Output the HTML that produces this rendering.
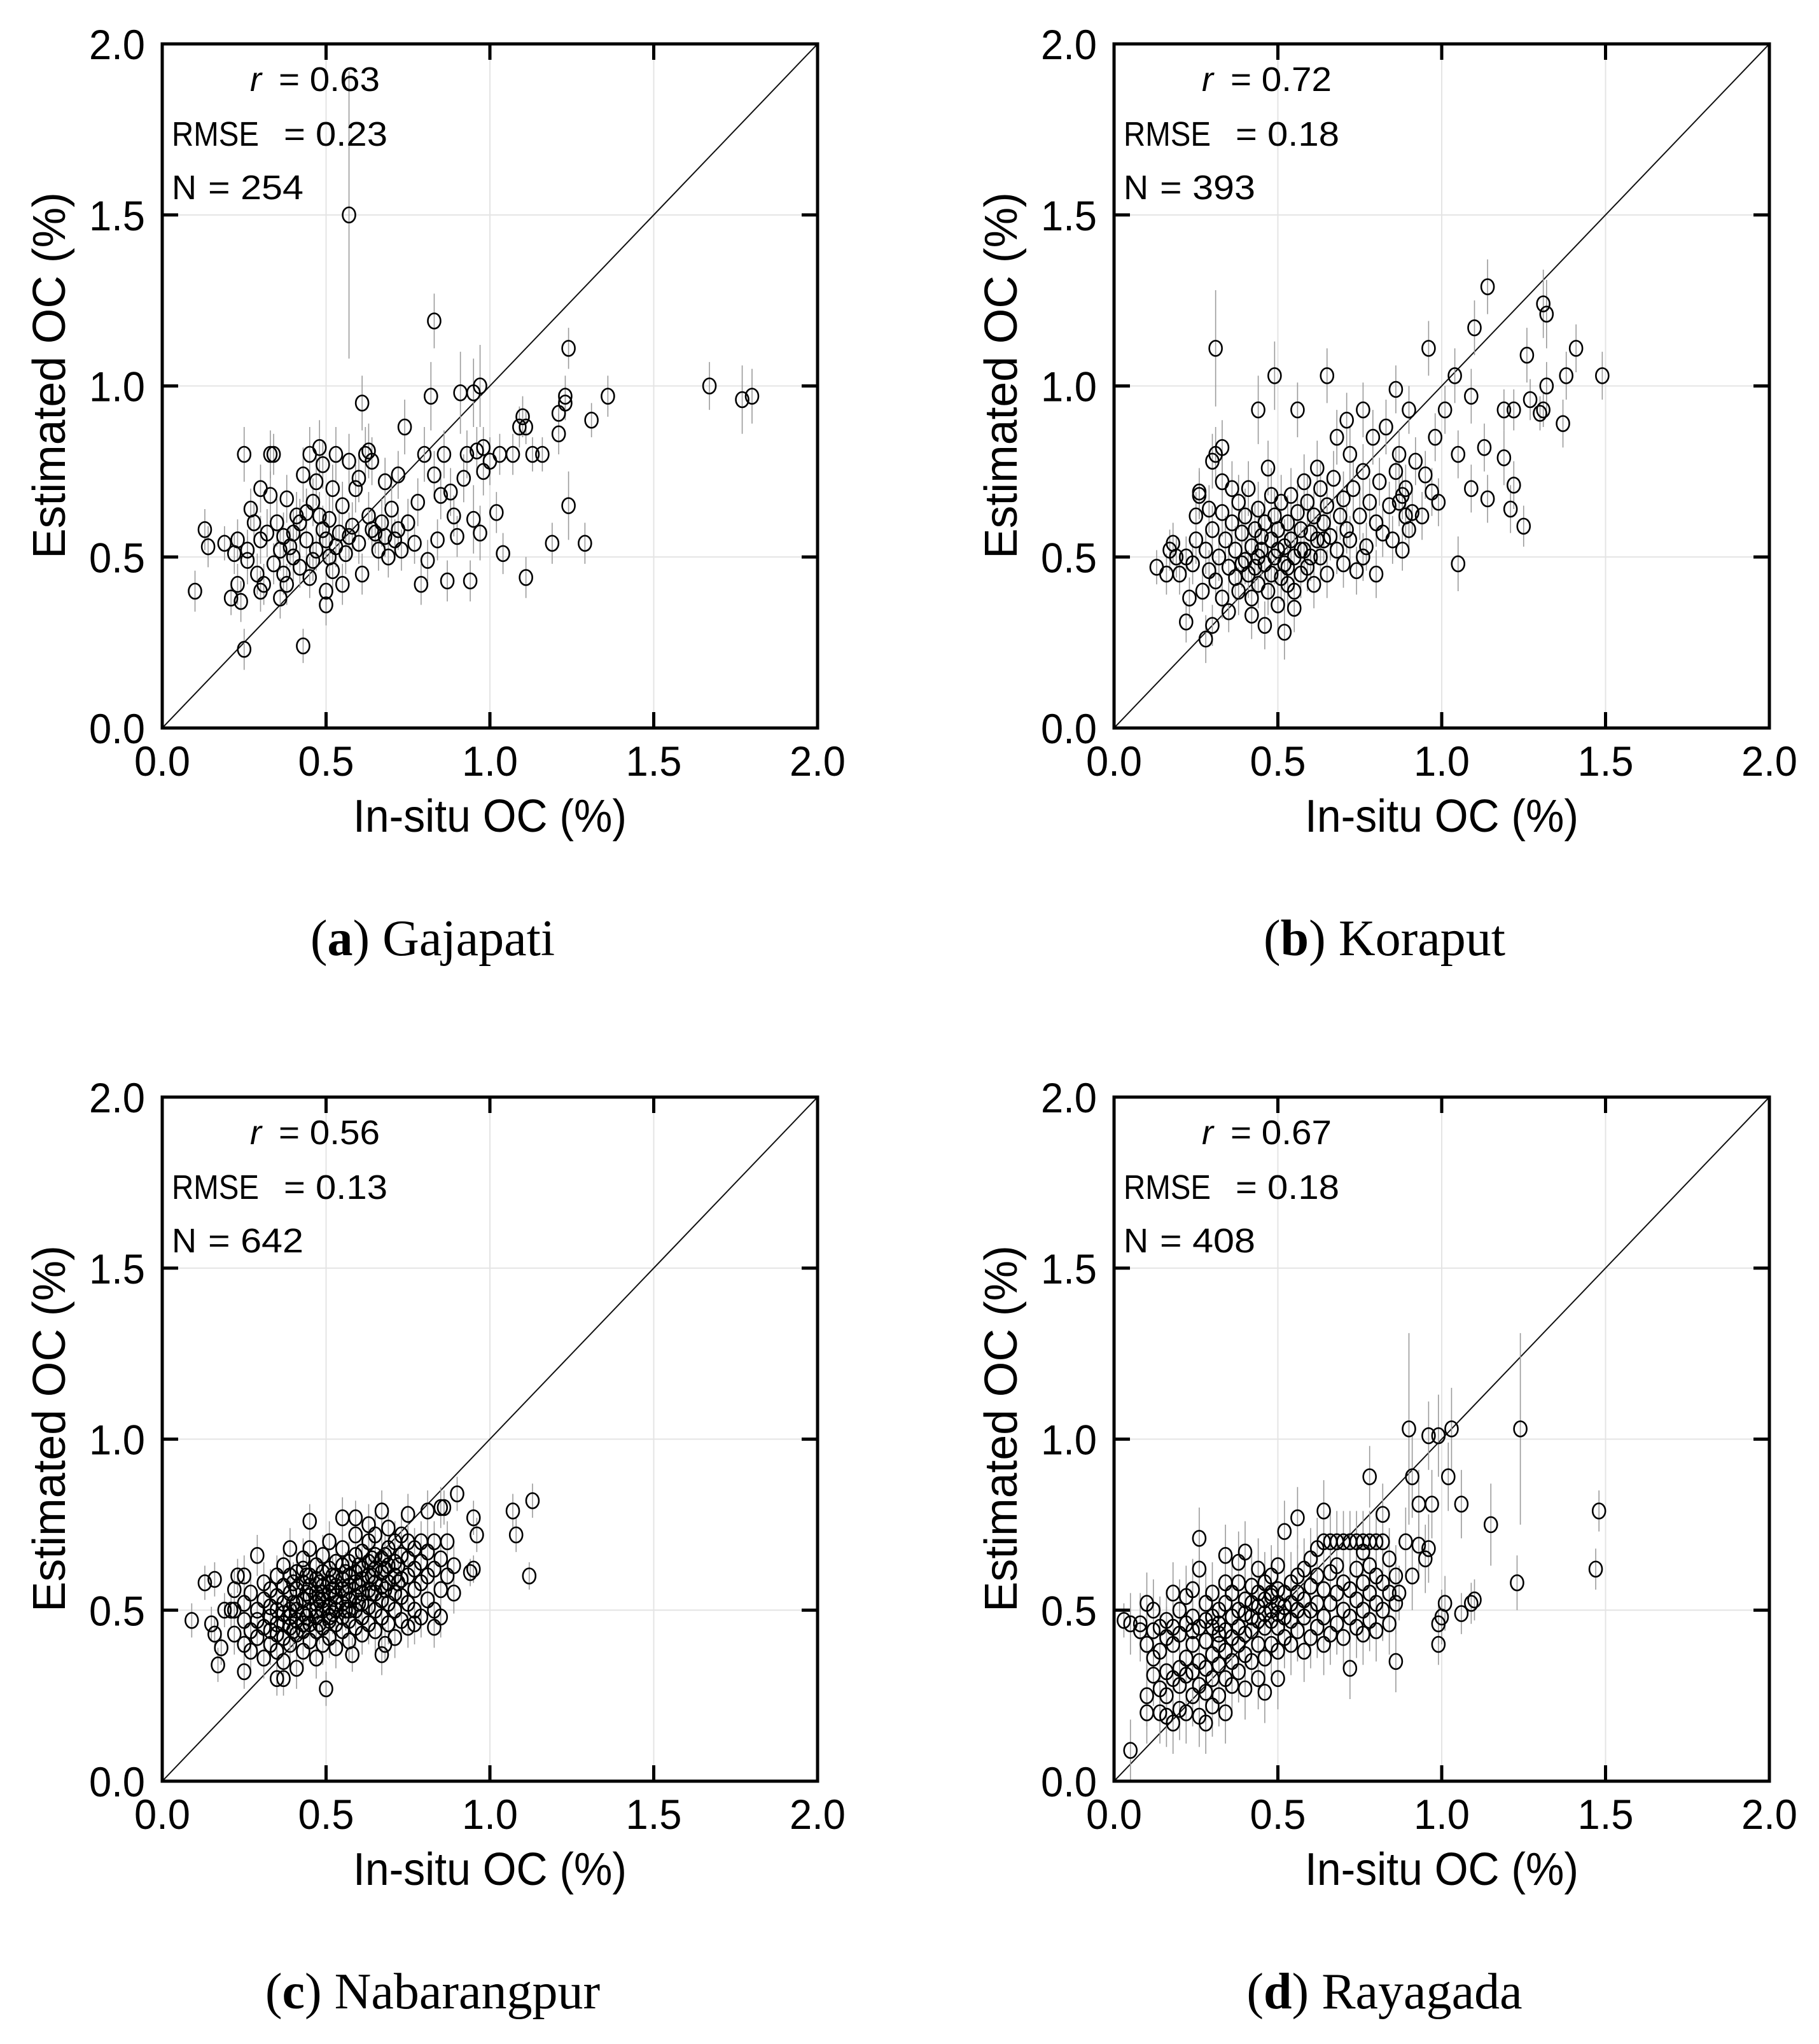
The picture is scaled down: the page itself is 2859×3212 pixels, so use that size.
<!DOCTYPE html>
<html>
<head>
<meta charset="utf-8">
<style>
html,body{margin:0;padding:0;background:#fff;}
svg{display:block;}
</style>
</head>
<body>
<svg id="fig" xmlns="http://www.w3.org/2000/svg" width="2859" height="3212" viewBox="0 0 2859 3212"></svg>
<script>
// ---------- DATA ----------
const tickValues = [0.0, 0.5, 1.0, 1.5, 2.0];
const tickLabels = ["0.0", "0.5", "1.0", "1.5", "2.0"];
const panelIds = ["a", "b", "c", "d"];
const panelNames = ["Gajapati", "Koraput", "Nabarangpur", "Rayagada"];
const statR = ["0.63", "0.72", "0.56", "0.67"];
const statRMSE = ["0.23", "0.18", "0.13", "0.18"];
const statN = ["254", "393", "642", "408"];

// Panel a: [in-situ, estimated, error]
const aPoints = [
[0.57,1.50,0.42],[0.83,1.19,0.08],[1.24,1.11,0.06],[1.67,1.00,0.07],[1.77,0.96,0.1],[1.80,0.97,0.08],[1.36,0.97,0.06],[1.23,0.97,0.06],[1.23,0.95,0.05],[0.97,1.00,0.12],[0.95,0.98,0.1],[0.91,0.98,0.12],[0.82,0.97,0.1],[0.61,0.95,0.08],[1.29,0.54,0.06],[1.11,0.44,0.06],[1.24,0.65,0.1],[1.19,0.54,0.06],[1.31,0.90,0.05],[1.21,0.92,0.06],[1.21,0.86,0.06],[1.10,0.91,0.06],[1.09,0.88,0.06],[1.11,0.88,0.05],[1.03,0.80,0.06],[1.07,0.80,0.06],[1.16,0.80,0.05],[1.13,0.80,0.05],[0.10,0.40,0.06],[0.13,0.58,0.06],[0.14,0.53,0.06],[0.19,0.54,0.05],[0.21,0.38,0.05],[0.23,0.42,0.06],[0.24,0.37,0.06],[0.25,0.23,0.06],[0.25,0.80,0.08],[0.43,0.24,0.05],[0.34,0.80,0.06],[0.26,0.52,0.06],[0.28,0.60,0.06],[0.30,0.70,0.07],[0.94,0.43,0.06],[0.79,0.42,0.06],[0.95,0.61,0.1],[0.97,0.57,0.08],[1.02,0.63,0.06],[1.04,0.51,0.06],[1.00,0.78,0.07],[0.98,0.75,0.07],[0.96,0.81,0.07],[0.98,0.82,0.06],
[0.22,0.51,0.06],[0.23,0.55,0.06],[0.26,0.49,0.07],[0.27,0.64,0.06],[0.29,0.45,0.06],[0.30,0.55,0.07],[0.31,0.42,0.06],[0.32,0.57,0.07],[0.33,0.68,0.07],[0.34,0.48,0.06],[0.35,0.60,0.07],[0.36,0.52,0.06],[0.37,0.56,0.07],[0.37,0.45,0.06],[0.38,0.67,0.07],[0.39,0.53,0.06],[0.40,0.50,0.07],[0.41,0.62,0.07],[0.42,0.47,0.06],[0.43,0.74,0.08],[0.44,0.55,0.07],[0.45,0.80,0.08],[0.45,0.44,0.06],[0.46,0.66,0.07],[0.47,0.72,0.07],[0.47,0.52,0.06],[0.48,0.82,0.08],[0.49,0.58,0.07],[0.50,0.40,0.06],[0.50,0.55,0.07],[0.51,0.61,0.07],[0.52,0.46,0.06],[0.53,0.80,0.08],[0.54,0.57,0.07],[0.55,0.65,0.07],[0.56,0.51,0.06],[0.57,0.78,0.08],[0.58,0.59,0.07],[0.59,0.70,0.07],[0.60,0.54,0.06],[0.61,0.45,0.06],[0.62,0.80,0.08],[0.63,0.62,0.07],[0.64,0.78,0.07],[0.65,0.57,0.06],[0.66,0.52,0.06],[0.67,0.60,0.07],[0.68,0.72,0.07],[0.69,0.50,0.06],[0.70,0.64,0.07],[0.71,0.55,0.06],[0.72,0.74,0.07],[0.73,0.52,0.06],[0.74,0.88,0.08],[0.75,0.60,0.07],[0.77,0.54,0.06],[0.78,0.66,0.07],[0.80,0.80,0.08],[0.81,0.49,0.06],[0.83,0.74,0.07],[0.84,0.55,0.06],[0.85,0.68,0.07],[0.86,0.80,0.07],[0.87,0.43,0.06],[0.88,0.69,0.07],[0.89,0.62,0.06],[0.90,0.56,0.06],[0.92,0.73,0.07],[0.93,0.80,0.07],[0.38,0.42,0.06],[0.42,0.60,0.07],[0.48,0.62,0.07],[0.52,0.70,0.07],[0.55,0.42,0.06],[0.60,0.73,0.07],[0.64,0.58,0.06],[0.36,0.38,0.06],[0.40,0.57,0.07],[0.44,0.63,0.07],[0.46,0.49,0.06],[0.50,0.36,0.06],[0.53,0.53,0.06],[0.57,0.56,0.07],[0.63,0.81,0.08],[0.68,0.56,0.06],[0.72,0.58,0.06],[0.30,0.40,0.06],[0.33,0.80,0.07],[0.49,0.77,0.07],[0.51,0.50,0.06]
];

// Panel b: [in-situ, estimated, error]
const bPoints = [
[0.31,1.11,0.17],[0.49,1.03,0.1],[0.56,0.93,0.08],[0.44,0.93,0.1],[0.65,1.03,0.08],[0.71,0.90,0.08],[0.76,0.93,0.08],[0.86,0.99,0.07],[0.90,0.93,0.07],[0.96,1.11,0.08],[1.01,0.93,0.07],[1.04,1.03,0.08],[1.10,1.17,0.08],[1.14,1.29,0.08],[1.31,1.24,0.1],[1.32,1.21,0.1],[1.26,1.09,0.08],[1.41,1.11,0.07],[1.49,1.03,0.07],[1.38,1.03,0.07],[1.31,0.93,0.05],[1.30,0.92,0.05],[1.27,0.96,0.06],[1.32,1.00,0.07],[1.37,0.89,0.07],[1.22,0.93,0.06],[1.19,0.93,0.06],[1.13,0.82,0.07],[1.19,0.79,0.08],[1.21,0.64,0.07],[1.25,0.59,0.06],[1.22,0.71,0.07],[1.14,0.67,0.07],[1.09,0.70,0.07],[1.05,0.48,0.08],[1.05,0.80,0.07],[1.09,0.97,0.08],[0.98,0.85,0.07],[0.99,0.66,0.07],[0.97,0.69,0.07],[0.95,0.74,0.07],[0.90,0.58,0.07],[0.87,0.66,0.07],[0.89,0.70,0.07],[0.91,0.63,0.07],[0.88,0.52,0.06],[0.13,0.47,0.05],[0.17,0.52,0.06],[0.22,0.31,0.06],[0.28,0.26,0.07],[0.31,0.80,0.08],[0.30,0.78,0.08],[0.33,0.82,0.08],[0.26,0.69,0.07],[0.25,0.62,0.07],
[0.20,0.45,0.06],[0.22,0.50,0.06],[0.24,0.48,0.06],[0.25,0.55,0.07],[0.27,0.40,0.06],[0.28,0.52,0.07],[0.29,0.46,0.06],[0.30,0.30,0.06],[0.30,0.58,0.07],[0.31,0.43,0.06],[0.32,0.50,0.07],[0.33,0.63,0.07],[0.33,0.38,0.06],[0.34,0.55,0.07],[0.35,0.47,0.07],[0.35,0.34,0.06],[0.36,0.60,0.07],[0.37,0.44,0.07],[0.37,0.52,0.07],[0.38,0.66,0.08],[0.38,0.40,0.07],[0.39,0.57,0.07],[0.40,0.49,0.07],[0.40,0.62,0.08],[0.41,0.45,0.07],[0.41,0.70,0.08],[0.42,0.53,0.07],[0.42,0.38,0.07],[0.43,0.58,0.08],[0.43,0.47,0.07],[0.44,0.64,0.08],[0.44,0.42,0.07],[0.45,0.52,0.08],[0.45,0.56,0.08],[0.46,0.48,0.07],[0.46,0.60,0.08],[0.47,0.40,0.07],[0.47,0.76,0.08],[0.48,0.55,0.08],[0.48,0.45,0.07],[0.49,0.62,0.08],[0.49,0.50,0.08],[0.50,0.36,0.08],[0.50,0.58,0.08],[0.51,0.44,0.07],[0.51,0.66,0.08],[0.52,0.53,0.08],[0.52,0.48,0.12],[0.53,0.60,0.08],[0.53,0.42,0.08],[0.54,0.68,0.08],[0.54,0.55,0.08],[0.55,0.50,0.08],[0.55,0.35,0.07],[0.56,0.63,0.08],[0.57,0.45,0.07],[0.57,0.58,0.08],[0.58,0.52,0.07],[0.59,0.66,0.08],[0.59,0.47,0.07],[0.60,0.57,0.08],[0.61,0.62,0.08],[0.61,0.42,0.07],[0.62,0.55,0.07],[0.63,0.70,0.08],[0.63,0.50,0.07],[0.64,0.60,0.07],[0.65,0.45,0.07],[0.65,0.65,0.08],[0.66,0.56,0.07],[0.67,0.73,0.08],[0.68,0.52,0.07],[0.69,0.62,0.07],[0.70,0.48,0.07],[0.70,0.67,0.08],[0.71,0.58,0.07],[0.72,0.55,0.07],[0.73,0.70,0.08],[0.74,0.46,0.07],[0.75,0.62,0.07],[0.76,0.75,0.08],[0.77,0.53,0.07],[0.78,0.66,0.07],[0.79,0.85,0.08],[0.80,0.60,0.07],[0.81,0.72,0.07],[0.82,0.57,0.07],[0.83,0.88,0.08],[0.84,0.65,0.07],[0.85,0.55,0.07],[0.86,0.75,0.07],[0.87,0.80,0.07],[0.88,0.68,0.07],[0.89,0.62,0.07],[0.92,0.78,0.07],[0.94,0.62,0.07],[0.80,0.45,0.07],[0.76,0.50,0.07],[0.72,0.80,0.08],[0.68,0.85,0.08],[0.62,0.76,0.08],[0.58,0.72,0.08],[0.36,0.70,0.08],[0.33,0.72,0.08],[0.29,0.64,0.07],[0.26,0.68,0.07],[0.23,0.38,0.06],[0.19,0.50,0.06],[0.16,0.45,0.06],[0.18,0.54,0.06],[0.42,0.33,0.07],[0.46,0.30,0.07],[0.52,0.28,0.08],[0.55,0.40,0.07],[0.48,0.68,0.08],[0.44,0.50,0.07],[0.39,0.48,0.07],[0.50,0.52,0.08],[0.53,0.47,0.07],[0.57,0.52,0.07],[0.60,0.50,0.07],[0.64,0.55,0.07]
];

// Panel c: outliers [in-situ, estimated, error] and dense columns [in-situ, [estimated...]]
const cOutliers = [
[0.09,0.47,0.05],[0.13,0.58,0.05],[0.15,0.46,0.05],[0.16,0.43,0.05],[0.17,0.34,0.05],[0.18,0.39,0.05],[0.16,0.59,0.05],[0.25,0.32,0.05],[0.35,0.30,0.05],[0.37,0.30,0.05],[0.50,0.27,0.05],[0.58,0.37,0.05],[0.68,0.40,0.05],[1.07,0.79,0.05],[1.13,0.82,0.05],[1.12,0.60,0.04],[1.08,0.72,0.05],[0.95,0.62,0.04],[0.94,0.61,0.04],[0.95,0.77,0.05],[0.90,0.84,0.05],[0.96,0.72,0.05],[0.86,0.80,0.05],[0.59,0.77,0.05],[0.45,0.76,0.05],[0.19,0.50,0.05],[0.21,0.50,0.05],[0.23,0.60,0.05]
];
const cColumns = [
[0.22,[0.43,0.56,0.50]],[0.25,[0.40,0.47,0.52,0.60]],[0.27,[0.44,0.38,0.55]],[0.29,[0.42,0.50,0.47,0.66]],[0.31,[0.36,0.45,0.53,0.58]],[0.33,[0.40,0.48,0.51,0.56,0.44]],[0.35,[0.38,0.46,0.50,0.54,0.60,0.43]],[0.37,[0.35,0.42,0.49,0.52,0.57,0.63,0.46]],[0.39,[0.40,0.45,0.50,0.55,0.60,0.48,0.68]],[0.41,[0.33,0.43,0.47,0.52,0.56,0.61,0.50]],[0.43,[0.38,0.44,0.49,0.53,0.58,0.65,0.46,0.62]],[0.45,[0.41,0.46,0.50,0.54,0.57,0.60,0.68]],[0.47,[0.36,0.44,0.48,0.52,0.55,0.59,0.63,0.50]],[0.49,[0.40,0.45,0.50,0.53,0.57,0.61,0.66,0.55]],[0.51,[0.42,0.47,0.51,0.55,0.58,0.62,0.70,0.48]],[0.53,[0.39,0.46,0.50,0.54,0.57,0.60,0.64,0.52]],[0.55,[0.44,0.48,0.52,0.56,0.59,0.63,0.68,0.77]],[0.57,[0.41,0.47,0.53,0.57,0.60,0.64,0.50]],[0.59,[0.45,0.50,0.54,0.58,0.61,0.66,0.72]],[0.61,[0.43,0.48,0.55,0.59,0.62,0.67,0.52]],[0.63,[0.46,0.51,0.56,0.60,0.64,0.70,0.75]],[0.65,[0.44,0.50,0.55,0.58,0.62,0.66,0.72]],[0.67,[0.48,0.53,0.57,0.61,0.65,0.79,0.37]],[0.69,[0.46,0.52,0.58,0.63,0.68,0.74]],[0.71,[0.50,0.55,0.60,0.64,0.70,0.42]],[0.73,[0.47,0.54,0.59,0.66,0.72]],[0.75,[0.45,0.52,0.60,0.65,0.70,0.78]],[0.77,[0.50,0.56,0.62,0.68,0.46]],[0.79,[0.48,0.58,0.64,0.70]],[0.81,[0.53,0.60,0.67,0.79]],[0.83,[0.50,0.62,0.70,0.45]],[0.85,[0.56,0.65,0.80,0.48]],[0.87,[0.60,0.70]],[0.89,[0.55,0.63]],
[0.40,[0.52,0.58,0.44]],[0.44,[0.48,0.55,0.60]],[0.48,[0.46,0.53,0.58]],[0.52,[0.49,0.56,0.60]],[0.56,[0.50,0.55,0.61]],[0.60,[0.52,0.57,0.63]],[0.64,[0.55,0.60,0.65]],[0.68,[0.56,0.62,0.66]],[0.72,[0.58,0.63]]
];
const cColumnError = 0.06;

// Panel d
const dOutliers = [
[0.90,1.03,0.28],[0.96,1.01,0.1],[0.99,1.01,0.12],[1.03,1.03,0.12],[1.24,1.03,0.28],[0.91,0.89,0.12],[1.02,0.89,0.1],[0.93,0.81,0.1],[0.97,0.81,0.1],[1.06,0.81,0.1],[1.15,0.75,0.12],[1.48,0.79,0.06],[1.47,0.62,0.06],[1.23,0.58,0.08],[1.10,0.53,0.06],[1.09,0.52,0.06],[1.06,0.49,0.06],[1.00,0.48,0.08],[0.99,0.40,0.06],[0.99,0.46,0.06],[1.01,0.52,0.08],[0.95,0.65,0.1],[0.96,0.68,0.1],[0.93,0.69,0.1],[0.89,0.70,0.1],[0.91,0.60,0.1],[0.87,0.55,0.08],[0.03,0.47,0.05]
];
const dColumns = [
[0.05,[0.09,0.46]],[0.08,[0.44,0.46]],[0.10,[0.25,0.20,0.40,0.52]],[0.12,[0.31,0.44,0.50,0.36]],[0.14,[0.20,0.27,0.38,0.45]],[0.16,[0.19,0.32,0.42,0.47,0.25]],[0.18,[0.17,0.30,0.40,0.45,0.55]],[0.20,[0.21,0.28,0.33,0.43,0.50]],[0.22,[0.20,0.31,0.36,0.46,0.54]],[0.24,[0.25,0.32,0.40,0.48,0.56,0.44]],[0.26,[0.19,0.28,0.35,0.45,0.62,0.71]],[0.28,[0.17,0.26,0.33,0.41,0.47,0.52]],[0.30,[0.22,0.30,0.37,0.45,0.48,0.55]],[0.32,[0.25,0.34,0.40,0.46,0.50,0.43]],[0.34,[0.20,0.30,0.38,0.44,0.52,0.66,0.58]],[0.36,[0.28,0.35,0.42,0.48,0.55]],[0.38,[0.32,0.40,0.45,0.50,0.58,0.64]],[0.40,[0.27,0.37,0.43,0.49,0.53,0.67]],[0.42,[0.35,0.44,0.48,0.52,0.57]],[0.44,[0.30,0.40,0.47,0.51,0.55,0.62]],[0.46,[0.36,0.45,0.49,0.53,0.58,0.26]],[0.48,[0.40,0.47,0.50,0.54,0.60,0.55]],[0.50,[0.38,0.45,0.49,0.52,0.56,0.63,0.30]],[0.52,[0.42,0.48,0.51,0.55,0.73]],[0.54,[0.40,0.47,0.52,0.58]],[0.56,[0.44,0.50,0.55,0.60,0.77]],[0.58,[0.38,0.48,0.53,0.62]],[0.60,[0.42,0.50,0.57,0.65]],[0.62,[0.45,0.52,0.60,0.68]],[0.64,[0.40,0.48,0.56,0.70,0.79]],[0.66,[0.43,0.52,0.61,0.70]],[0.68,[0.46,0.55,0.63,0.70]],[0.70,[0.42,0.50,0.58,0.70]],[0.72,[0.33,0.48,0.56,0.70]],[0.74,[0.45,0.53,0.62,0.70]],[0.76,[0.43,0.50,0.58,0.70,0.67]],[0.78,[0.47,0.55,0.63,0.70,0.89]],[0.80,[0.44,0.52,0.60,0.70]],[0.82,[0.50,0.58,0.70,0.78]],[0.84,[0.46,0.55,0.65]],[0.86,[0.35,0.52,0.60]]
];
const dColumnError = 0.09;

// ---------- RENDER ----------
const NS = "http://www.w3.org/2000/svg";
const svg = document.getElementById("fig");
const PW = 1030, PH = 1075;
const origins = [[255, 69], [1751, 69], [255, 1724], [1751, 1724]];
const VMAX = 2.0;

function mk(tag, attrs, parent) {
  const e = document.createElementNS(NS, tag);
  for (const k in attrs) e.setAttribute(k, attrs[k]);
  (parent || svg).appendChild(e);
  return e;
}
function flatten(outl, cols, err) {
  const out = outl.map(p => p.slice());
  cols.forEach(c => c[1].forEach(y => out.push([c[0], y, err])));
  return out;
}
const panelData = [aPoints, bPoints, flatten(cOutliers, cColumns, cColumnError), flatten(dOutliers, dColumns, dColumnError)];

panelIds.forEach((pid, i) => {
  const L = origins[i][0], T = origins[i][1];
  const sx = v => L + v / VMAX * PW;
  const sy = v => T + PH - v / VMAX * PH;
  const g = mk("g", {});
  
  

  tickValues.slice(1, 4).forEach(v => {
    const gx = mk("line", {x1: sx(v), x2: sx(v), y1: T, y2: T + PH, stroke: "#e4e4e4", "stroke-width": 2}, g);
    
    
    const gy = mk("line", {x1: L, x2: L + PW, y1: sy(v), y2: sy(v), stroke: "#e4e4e4", "stroke-width": 2}, g);
    
    
  });

  const diag = mk("line", {x1: sx(0), y1: sy(0), x2: sx(2), y2: sy(2), stroke: "#111", "stroke-width": 2}, g);
  
  

  const pts = panelData[i];
  const eg = mk("g", {}, g);
  
  
  pts.forEach(p => {
    const l = mk("line", {x1: sx(p[0]), x2: sx(p[0]), y1: sy(p[1] + p[2]), y2: sy(Math.max(0, p[1] - p[2])), stroke: "#9a9a9a", "stroke-width": 1.6}, eg);
    
    
  });
  const mg = mk("g", {}, g);
  
  
  pts.forEach(p => {
    const c = mk("ellipse", {cx: sx(p[0]), cy: sy(p[1]), rx: 10, ry: 12, fill: "none", stroke: "#000", "stroke-width": 2.6}, mg);
    
    
  });

  const fr = mk("path", {d: `M${L},${T} H${L + PW} V${T + PH} H${L} Z`, fill: "none", stroke: "#000", "stroke-width": 5}, g);
  
  

  tickValues.forEach((v, k) => {
    if (k > 0 && k < 4) {
      [[sx(v), T + PH, sx(v), T + PH - 25], [sx(v), T, sx(v), T + 25], [L, sy(v), L + 25, sy(v)], [L + PW, sy(v), L + PW - 25, sy(v)]].forEach(t => {
        const tk = mk("line", {x1: t[0], y1: t[1], x2: t[2], y2: t[3], stroke: "#000", "stroke-width": 5}, g);
        
        
      });
    }
    const xl = mk("text", {x: sx(v), y: T + PH + 75, "text-anchor": "middle", "font-family": "Liberation Sans, sans-serif", "font-size": 66, textLength: 88, lengthAdjust: "spacingAndGlyphs"}, g);
    xl.textContent = tickLabels[k];
    
    
    const yl = mk("text", {x: L - 27, y: sy(v) + 24, "text-anchor": "end", "font-family": "Liberation Sans, sans-serif", "font-size": 66, textLength: 88, lengthAdjust: "spacingAndGlyphs"}, g);
    yl.textContent = tickLabels[k];
    
    
  });

  const xt = mk("text", {x: L + PW / 2, y: T + PH + 163, "text-anchor": "middle", "font-family": "Liberation Sans, sans-serif", "font-size": 72, textLength: 430, lengthAdjust: "spacingAndGlyphs"}, g);
  xt.textContent = "In-situ OC (%)";
  
  
  const yx = L - 153, yy = T + 521;
  const yt = mk("text", {x: yx, y: yy, "text-anchor": "middle", "font-family": "Liberation Sans, sans-serif", "font-size": 72, textLength: 576, lengthAdjust: "spacingAndGlyphs", transform: `rotate(-90 ${yx} ${yy})`}, g);
  yt.textContent = "Estimated OC (%)";
  
  

  const sg = mk("g", {"font-family": "Liberation Sans, sans-serif", "font-size": 54}, g);
  
  
  const r1 = mk("text", {x: L + 138, y: T + 74, "font-style": "italic"}, sg);
  r1.textContent = "r";
  
  
  const r2 = mk("text", {x: L + 183, y: T + 74, textLength: 159, lengthAdjust: "spacingAndGlyphs"}, sg);
  r2.textContent = "= " + statR[i];
  
  
  const m1 = mk("text", {x: L + 15, y: T + 160, textLength: 137, lengthAdjust: "spacingAndGlyphs"}, sg);
  m1.textContent = "RMSE";
  
  
  const m2 = mk("text", {x: L + 191, y: T + 160, textLength: 163, lengthAdjust: "spacingAndGlyphs"}, sg);
  m2.textContent = "= " + statRMSE[i];
  
  
  const n1 = mk("text", {x: L + 15, y: T + 244}, sg);
  n1.textContent = "N";
  
  
  const n2 = mk("text", {x: L + 72, y: T + 244, textLength: 150, lengthAdjust: "spacingAndGlyphs"}, sg);
  n2.textContent = "= " + statN[i];
  
  

  const cap = mk("text", {x: L + PW / 2 - 90, y: T + 1432, "text-anchor": "middle", "font-family": "Liberation Serif, serif", "font-size": 80}, g);
  
  
  const s1 = mk("tspan", {}, cap); s1.textContent = "(";
  const s2 = mk("tspan", {"font-weight": "bold"}, cap); s2.textContent = pid;
  const s3 = mk("tspan", {}, cap); s3.textContent = ") " + panelNames[i];
});
</script>
</body>
</html>
